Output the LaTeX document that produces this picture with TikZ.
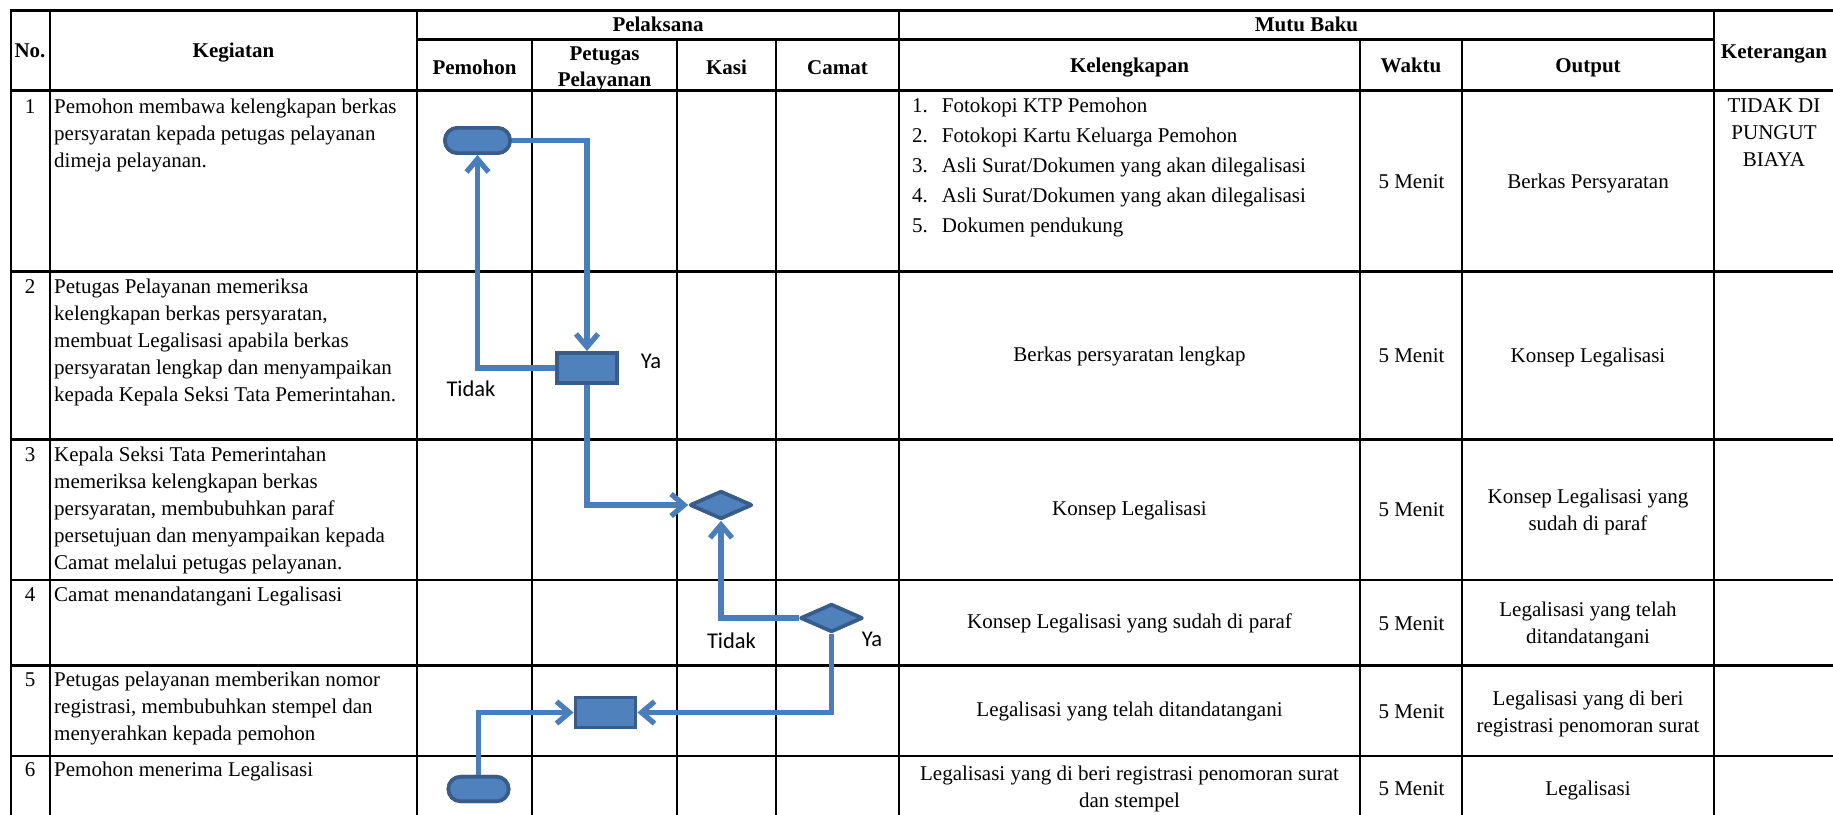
\documentclass[tikz,border=0pt]{standalone}
\usepackage{fontspec}
\setmainfont{Liberation Serif}
\newfontfamily\calfont{Carlito}
\usetikzlibrary{arrows.meta,shapes.geometric}
\definecolor{flowfill}{HTML}{4F81BD}
\definecolor{flowedge}{HTML}{385D8A}
\definecolor{flowline}{HTML}{4A7EBB}
\newcommand{\lft}[1]{\begin{tabular}[t]{@{}l@{}}#1\end{tabular}}
\newcommand{\ctr}[1]{\begin{tabular}[t]{@{}c@{}}#1\end{tabular}}
\begin{document}
\begin{tikzpicture}[x=1pt,y=-1pt,
 hline/.style={line width=2.7pt},
 vline/.style={line width=2.2pt},
 txt/.style={inner sep=0pt, anchor=base, font=\fontsize{21}{27}\selectfont},
 ltxt/.style={inner sep=0pt, anchor=base west, font=\fontsize{21}{27}\selectfont},
 htxt/.style={inner sep=0pt, anchor=base, font=\fontsize{21}{26}\selectfont\bfseries},
 lbl/.style={inner sep=0pt, anchor=base, font=\calfont\fontsize{22.5}{27}\selectfont},
 term/.style={draw=flowedge, fill=flowfill, line width=3.6pt, rounded corners=12.6pt, minimum width=65.2pt, minimum height=25.3pt, inner sep=0pt},
 proc/.style={draw=flowedge, fill=flowfill, line width=3.6pt, minimum width=60.3pt, minimum height=30.3pt, inner sep=0pt},
 dec/.style={diamond, draw=flowedge, fill=flowfill, line width=3.6pt, line join=round, minimum width=62pt, minimum height=28pt, inner sep=0pt},
 flow/.style={draw=flowline, line width=5.3pt, -{Straight Barb[length=13pt,width=22pt]}}
]
\useasboundingbox (0,0) rectangle (1833,814);

% table grid
\foreach \yy in {10.7,90.7,271.5,439.5,580,665.3,756}
  \draw[hline] (9.5,\yy) -- (1840,\yy);
\draw[hline] (417,39.3) -- (1714,39.3);
\foreach \xx in {10.6,50,417,899,1714}
  \draw[vline] (\xx,10.7) -- (\xx,830);
\foreach \xx in {532,677,776,1360,1462}
  \draw[vline] (\xx,39.3) -- (\xx,830);

% headers
\node[htxt] (hno) at (30,57.5) {No.};
\node[htxt] (hkeg) at (233.5,57.5) {Kegiatan};
\node[htxt] (hpel) at (658,31.7) {Pelaksana};
\node[htxt] (hpem) at (474.5,74) {Pemohon};
\node[htxt] (hpet) at (604.5,60) {\ctr{Petugas\\Pelayanan}};
\node[htxt] (hkasi) at (726.5,74) {Kasi};
\node[htxt] (hcam) at (837.5,74) {Camat};
\node[htxt] (hmutu) at (1306.5,31.7) {Mutu Baku};
\node[htxt] (hkel) at (1129.5,72) {Kelengkapan};
\node[htxt] (hwak) at (1411,72.5) {Waktu};
\node[htxt] (hout) at (1588,72.5) {Output};
\node[htxt] (hket) at (1774,58) {Keterangan};

% numbers
\node[txt] (n1) at (30,113.3) {1};
\node[txt] (n2) at (30,293.3) {2};
\node[txt] (n3) at (30,461) {3};
\node[txt] (n4) at (30,601) {4};
\node[txt] (n5) at (30,686) {5};
\node[txt] (n6) at (30,776.7) {6};

% kegiatan
\node[ltxt] (k1) at (54,113.3) {\lft{Pemohon membawa kelengkapan berkas\\persyaratan kepada petugas pelayanan\\dimeja pelayanan.}};
\node[ltxt] (k2) at (54,293.3) {\lft{Petugas Pelayanan memeriksa\\kelengkapan berkas persyaratan,\\membuat Legalisasi apabila berkas\\persyaratan lengkap dan menyampaikan\\kepada Kepala Seksi Tata Pemerintahan.}};
\node[ltxt] (k3) at (54,461) {\lft{Kepala Seksi Tata Pemerintahan\\memeriksa kelengkapan berkas\\persyaratan, membubuhkan paraf\\persetujuan dan menyampaikan kepada\\Camat melalui petugas pelayanan.}};
\node[ltxt] (k4) at (54,601) {Camat menandatangani Legalisasi};
\node[ltxt] (k5) at (54,686) {\lft{Petugas pelayanan memberikan nomor\\registrasi, membubuhkan stempel dan\\menyerahkan kepada pemohon}};
\node[ltxt] (k6) at (54,776.7) {Pemohon menerima Legalisasi};

% mutu baku
\node[ltxt, font=\fontsize{21}{30.1}\selectfont] (kel1) at (912,112.3) {\begin{tabular}[t]{@{}l@{\hspace{14pt}}l@{}}1.&Fotokopi KTP Pemohon\\2.&Fotokopi Kartu Keluarga Pemohon\\3.&Asli Surat/Dokumen yang akan dilegalisasi\\4.&Asli Surat/Dokumen yang akan dilegalisasi\\5.&Dokumen pendukung\end{tabular}};
\node[txt] (w1) at (1411.5,188.3) {5 Menit};
\node[txt] (o1) at (1588,188.3) {Berkas Persyaratan};
\node[txt] (ket1) at (1774,112.7) {\ctr{TIDAK DI\\PUNGUT\\BIAYA}};

\node[txt] (kel2) at (1129.5,361.7) {Berkas persyaratan lengkap};
\node[txt] (w2) at (1411.5,362.7) {5 Menit};
\node[txt] (o2) at (1588,362.7) {Konsep Legalisasi};

\node[txt] (kel3) at (1129.5,515) {Konsep Legalisasi};
\node[txt] (w3) at (1411.5,516.7) {5 Menit};
\node[txt] (o3) at (1588,503.3) {\ctr{Konsep Legalisasi yang\\sudah di paraf}};

\node[txt] (kel4) at (1129.5,628.3) {Konsep Legalisasi yang sudah di paraf};
\node[txt] (w4) at (1411.5,630) {5 Menit};
\node[txt] (o4) at (1588,616) {\ctr{Legalisasi yang telah\\ditandatangani}};

\node[txt] (kel5) at (1129.5,716.7) {Legalisasi yang telah ditandatangani};
\node[txt] (w5) at (1411.5,718.3) {5 Menit};
\node[txt] (o5) at (1588,705) {\ctr{Legalisasi yang di beri\\registrasi penomoran surat}};

\node[txt] (kel6) at (1129.5,780.7) {\ctr{Legalisasi yang di beri registrasi penomoran surat\\dan stempel}};
\node[txt] (w6) at (1411.5,795) {5 Menit};
\node[txt] (o6) at (1588,795) {Legalisasi};

% flowchart shapes
\node[term] (t1) at (477.5,140.5) {};
\node[proc] (r1) at (587,368) {};
\node[dec] (d1) at (721,505) {};
\node[dec] (d2) at (831.5,618) {};
\node[proc] (r2) at (605.5,712.5) {};
\node[term, minimum width=60.3pt, minimum height=24.5pt, rounded corners=12.2pt] (t2) at (478.5,789) {};

% connectors
\draw[flow] (t1.east) -| (r1.north);
\draw[flow] (r1.west) -| (t1.south);
\draw[flow] (r1.south) |- (d1.west);
\draw[flow] (d2.west) -| (d1.south);
\draw[flow] (d2.south) |- (r2.east);
\draw[flow] (t2.north) |- (r2.west);

% redraw shapes on top of the connector ends
\node[term] at (t1.center) {};
\node[proc] at (r1.center) {};
\node[dec] at (d1.center) {};
\node[dec] at (d2.center) {};
\node[proc] at (r2.center) {};
\node[term, minimum width=60.3pt, minimum height=24.5pt, rounded corners=12.2pt] at (t2.center) {};

% labels
\node[lbl] (tidak1) at (471,396.7) {Tidak};
\node[lbl] (ya1) at (651,368.3) {Ya};
\node[lbl] (tidak2) at (731.5,648.3) {Tidak};
\node[lbl] (ya2) at (872,646) {Ya};
\end{tikzpicture}
\end{document}
